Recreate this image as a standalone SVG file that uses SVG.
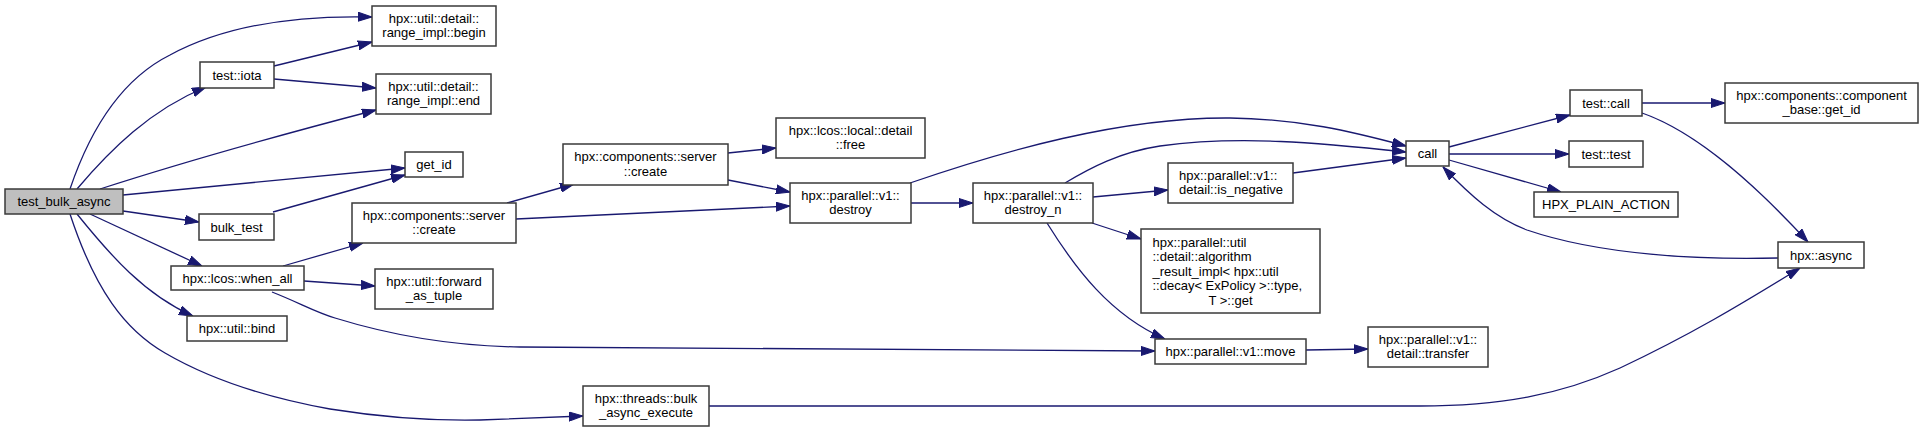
<svg xmlns="http://www.w3.org/2000/svg" width="1929" height="432" viewBox="0 0 1929 432">
<defs>
<style>
.n rect{fill:#ffffff;stroke:#3a3a3a;stroke-width:1.5}
.n.root rect{fill:#bfbfbf}
.n text{font-family:"Liberation Sans",Arial,sans-serif;font-size:13px;fill:#000;text-anchor:middle}
.n text.l{text-anchor:start}
#edges path{fill:none;stroke:#191970;stroke-width:1.3;marker-end:url(#ah)}
</style>
<marker id="ah" markerUnits="userSpaceOnUse" markerWidth="14" markerHeight="10" viewBox="0 0 14 10" refX="14" refY="5" orient="auto">
<path d="M0,0.5 L14,5 L0,9.5 z" fill="#191970" stroke="#191970" stroke-width="1"/>
</marker>
</defs>
<rect width="1929" height="432" fill="#ffffff"/>
<g id="edges">
<path d="M70,189 C90,130 120,80 170,55 C220,28 290,15 372,17"/>
<path d="M77,189 C110,150 150,110 206,87"/>
<path d="M274,66 L372,42"/>
<path d="M274,79 L376,88"/>
<path d="M100,189 C190,160 280,135 376,110"/>
<path d="M123,195 L405,168"/>
<path d="M123,211 L199,222"/>
<path d="M273,212 L405,175"/>
<path d="M90,214 L202,266"/>
<path d="M77,214 C110,255 145,295 193,316"/>
<path d="M70,214 C95,290 125,330 165,353 C220,385 280,400 330,409 C380,417 430,421 480,420 L583,416"/>
<path d="M283,266 L363,243"/>
<path d="M304,281 L375,286"/>
<path d="M272,292 C300,303 315,312 335,318 C390,335 450,346 520,347 L1155,351"/>
<path d="M507,203 L574,184"/>
<path d="M516,219 L790,206"/>
<path d="M728,153 L776,148"/>
<path d="M728,180 L790,192"/>
<path d="M910,183 C1000,152 1120,117 1230,118 C1300,119 1350,131 1406,146"/>
<path d="M911,203 L973,203"/>
<path d="M1065,183 C1090,168 1120,152 1160,146 C1240,135 1320,143 1406,152"/>
<path d="M1093,197 L1168,190"/>
<path d="M1293,173 L1406,158"/>
<path d="M1092,223 L1141,239"/>
<path d="M1047,223 C1075,268 1110,315 1165,339"/>
<path d="M1306,350 L1368,349"/>
<path d="M709,406 L1420,406 C1500,406 1560,395 1620,368 C1690,335 1740,305 1800,268"/>
<path d="M1449,147 L1570,115"/>
<path d="M1449,154 L1569,154"/>
<path d="M1449,160 L1561,192"/>
<path d="M1642,103 L1725,103"/>
<path d="M1642,113 C1700,133 1760,190 1808,242"/>
<path d="M1778,258 C1700,260 1600,255 1527,230 C1495,218 1470,195 1443,167"/>
</g>
<g id="test_bulk_async" class="n root"><rect x="5" y="189" width="118" height="25"/><text x="64" y="206">test_bulk_async</text></g>
<g id="range_begin" class="n"><rect x="372" y="6" width="124" height="40"/><text x="434" y="22.5">hpx::util::detail::</text><text x="434" y="37">range_impl::begin</text></g>
<g id="test_iota" class="n"><rect x="200" y="62" width="74" height="26"/><text x="237" y="79.5">test::iota</text></g>
<g id="range_end" class="n"><rect x="376" y="74" width="115" height="40"/><text x="433.5" y="90.5">hpx::util::detail::</text><text x="433.5" y="105">range_impl::end</text></g>
<g id="get_id" class="n"><rect x="405" y="152" width="58" height="25"/><text x="434" y="169">get_id</text></g>
<g id="bulk_test" class="n"><rect x="199" y="214" width="75" height="26"/><text x="236.5" y="231.5">bulk_test</text></g>
<g id="server_create_a" class="n"><rect x="352" y="203" width="164" height="40"/><text x="434" y="219.5">hpx::components::server</text><text x="434" y="234">::create</text></g>
<g id="when_all" class="n"><rect x="171" y="266" width="133" height="24"/><text x="237.5" y="282.5">hpx::lcos::when_all</text></g>
<g id="forward_as_tuple" class="n"><rect x="375" y="269" width="118" height="40"/><text x="434" y="285.5">hpx::util::forward</text><text x="434" y="300">_as_tuple</text></g>
<g id="bind" class="n"><rect x="187" y="316" width="100" height="25"/><text x="237" y="333">hpx::util::bind</text></g>
<g id="bulk_async_execute" class="n"><rect x="583" y="386" width="126" height="40"/><text x="646" y="402.5">hpx::threads::bulk</text><text x="646" y="417">_async_execute</text></g>
<g id="server_create_b" class="n"><rect x="563" y="144" width="165" height="41"/><text x="645.5" y="161">hpx::components::server</text><text x="645.5" y="175.5">::create</text></g>
<g id="free" class="n"><rect x="776" y="118" width="149" height="40"/><text x="850.5" y="134.5">hpx::lcos::local::detail</text><text x="850.5" y="149">::free</text></g>
<g id="destroy" class="n"><rect x="790" y="183" width="121" height="40"/><text x="850.5" y="199.5">hpx::parallel::v1::</text><text x="850.5" y="214">destroy</text></g>
<g id="destroy_n" class="n"><rect x="973" y="183" width="120" height="40"/><text x="1033" y="199.5">hpx::parallel::v1::</text><text x="1033" y="214">destroy_n</text></g>
<g id="is_negative" class="n"><rect x="1168" y="163" width="125" height="40"/><text class="l" x="1179" y="179.5">hpx::parallel::v1::</text><text class="l" x="1179" y="194">detail::is_negative</text></g>
<g id="call" class="n"><rect x="1406" y="141" width="43" height="25"/><text x="1427.5" y="158">call</text></g>
<g id="algorithm_result" class="n"><rect x="1141" y="229" width="179" height="84"/><text class="l" x="1152.5" y="246.5">hpx::parallel::util</text><text class="l" x="1152.5" y="261">::detail::algorithm</text><text class="l" x="1152.5" y="275.5">_result_impl&lt; hpx::util</text><text class="l" x="1152.5" y="290">::decay&lt; ExPolicy &gt;::type,</text><text x="1230.5" y="304.5">T &gt;::get</text></g>
<g id="move" class="n"><rect x="1155" y="339" width="151" height="25"/><text x="1230.5" y="356">hpx::parallel::v1::move</text></g>
<g id="transfer" class="n"><rect x="1368" y="327" width="120" height="40"/><text x="1428" y="343.5">hpx::parallel::v1::</text><text x="1428" y="358">detail::transfer</text></g>
<g id="test_call" class="n"><rect x="1570" y="90" width="72" height="26"/><text x="1606" y="107.5">test::call</text></g>
<g id="component_get_id" class="n"><rect x="1725" y="83" width="193" height="40"/><text x="1821.5" y="99.5">hpx::components::component</text><text x="1821.5" y="114">_base::get_id</text></g>
<g id="test_test" class="n"><rect x="1569" y="141" width="74" height="26"/><text x="1606" y="158.5">test::test</text></g>
<g id="hpx_plain_action" class="n"><rect x="1534" y="192" width="144" height="25"/><text x="1606" y="209">HPX_PLAIN_ACTION</text></g>
<g id="hpx_async" class="n"><rect x="1778" y="242" width="86" height="26"/><text x="1821" y="259.5">hpx::async</text></g>
</svg>
